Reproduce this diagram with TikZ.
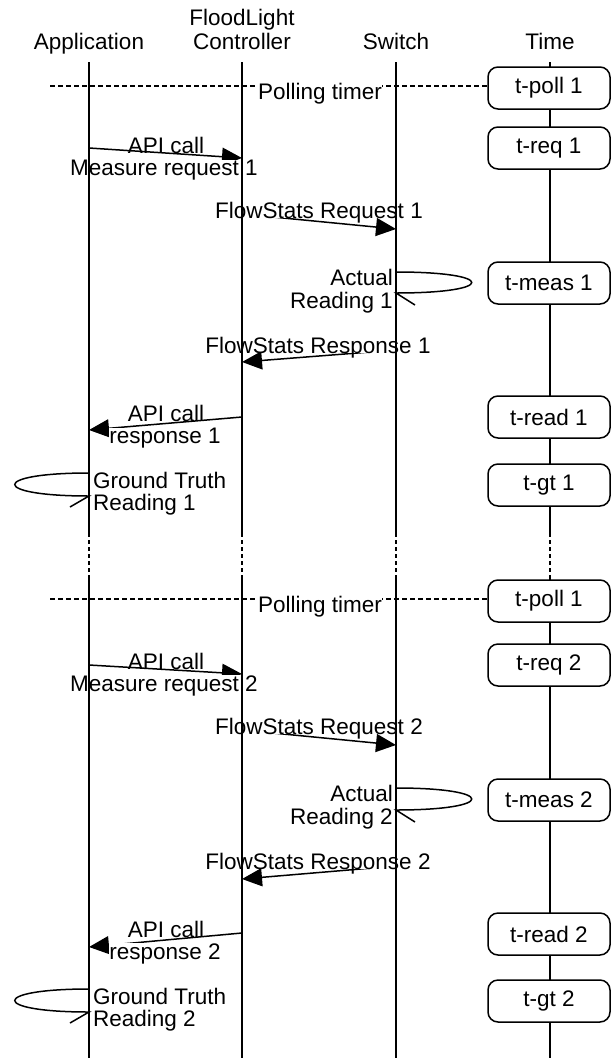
\documentclass[tikz,border=0pt]{standalone}
\usepackage{fontspec}
\setmainfont{Liberation Sans}
\usetikzlibrary{arrows.meta}
\begin{document}
\begin{tikzpicture}[x=1pt,y=-1pt,
  every node/.style={font=\fontsize{22.5}{24}\selectfont, inner sep=0pt},
  lbl/.style={anchor=base},
  lblw/.style={anchor=base, fill=white, text depth=0pt},
  msg/.style={line width=1.5pt, -{Triangle[length=20pt,width=18pt]}},
  life/.style={line width=1.6pt},
  gap/.style={line width=1.6pt, dash pattern=on 4pt off 3pt},
  tbox/.style={draw, line width=1.5pt, fill=white, rounded corners=10pt, minimum width=122pt, minimum height=42pt},
  timer/.style={line width=1.3pt, dash pattern=on 5pt off 3pt},
  selfloop/.style={line width=1.5pt}
]
\useasboundingbox (0,0) rectangle (616,1058);

% ---------- header ----------
\node[lbl] (hA) at (89,49) {Application};
\node[lbl] (hC1) at (242,25) {FloodLight};
\node[lbl] (hC2) at (242,49) {Controller};
\node[lbl] (hS) at (396,49) {Switch};
\node[lbl] (hT) at (550,49) {Time};

% ---------- lifeline coordinates ----------
\foreach \n/\x in {A/89,C/242,S/396,T/550}{
  \coordinate (\n0) at (\x,62);
  \coordinate (\n1) at (\x,533);
  \coordinate (\n2) at (\x,579);
  \coordinate (\n3) at (\x,1058);
}

% ---------- polling timers ----------
\coordinate (p1s) at (50,86);
\coordinate (p1e) at (488,86);
\coordinate (p2s) at (50,599);
\coordinate (p2e) at (488,599);
\draw[timer] (p1s) -- (p1e);
\draw[timer] (p2s) -- (p2e);

% ---------- block 1 messages ----------
\coordinate (r1s) at (89,148);  \coordinate (r1e) at (242,158);
\coordinate (f1s) at (242,214); \coordinate (f1e) at (396,229);
\coordinate (g1s) at (396,350); \coordinate (g1e) at (242,362);
\coordinate (a1s) at (242,417); \coordinate (a1e) at (89,430);
\draw[msg] (r1s) -- (r1e);
\draw[msg] (f1s) -- (f1e);
\draw[msg] (g1s) -- (g1e);
\draw[msg] (a1s) -- (a1e);
\coordinate (L1a) at (396,272); \coordinate (L1b) at (396,293); \coordinate (L1c) at (415,305);
\draw[selfloop] (L1a) .. controls (497,272) and (497,293) .. (L1b) -- (L1c);
\coordinate (G1a) at (89,473); \coordinate (G1b) at (89,496); \coordinate (G1c) at (70,507);
\draw[selfloop] (G1a) .. controls (-10,473) and (-10,496) .. (G1b) -- (G1c);

% ---------- block 2 messages ----------
\coordinate (r2s) at (89,665);  \coordinate (r2e) at (242,674);
\coordinate (f2s) at (242,730); \coordinate (f2e) at (396,745);
\coordinate (g2s) at (396,866); \coordinate (g2e) at (242,879);
\coordinate (a2s) at (242,933); \coordinate (a2e) at (89,947);
\draw[msg] (r2s) -- (r2e);
\draw[msg] (f2s) -- (f2e);
\draw[msg] (g2s) -- (g2e);
\draw[msg] (a2s) -- (a2e);
\coordinate (L2a) at (396,788); \coordinate (L2b) at (396,810); \coordinate (L2c) at (415,822);
\draw[selfloop] (L2a) .. controls (497,788) and (497,810) .. (L2b) -- (L2c);
\coordinate (G2a) at (89,989); \coordinate (G2b) at (89,1012); \coordinate (G2c) at (70,1023);
\draw[selfloop] (G2a) .. controls (-10,989) and (-10,1012) .. (G2b) -- (G2c);

% ---------- labels block 1 ----------
\node[lblw] (pt1) at (320,99) {Polling timer};
\node[lbl] (m1a) at (166,153) {API call};
\node[lblw] (m1b) at (164,175) {Measure request 1};
\node[lblw] (m2) at (319,218) {FlowStats Request 1};
\node[lbl, anchor=base east] (m3a) at (393,285) {Actual};
\node[lbl, anchor=base east] (m3b) at (393,308) {Reading 1};
\node[lblw] (m4) at (318,353) {FlowStats Response 1};
\node[lbl] (m5a) at (166,421) {API call};
\node[lblw] (m5b) at (165,443) {response 1};
\node[lbl, anchor=base west] (m6a) at (93,488) {Ground Truth};
\node[lbl, anchor=base west] (m6b) at (93,510) {Reading 1};

% ---------- labels block 2 ----------
\node[lblw] (pt2) at (320,612) {Polling timer};
\node[lbl] (n1a) at (166,669) {API call};
\node[lblw] (n1b) at (164,691) {Measure request 2};
\node[lblw] (n2) at (319,734) {FlowStats Request 2};
\node[lbl, anchor=base east] (n3a) at (393,801) {Actual};
\node[lbl, anchor=base east] (n3b) at (393,824) {Reading 2};
\node[lblw] (n4) at (318,869) {FlowStats Response 2};
\node[lbl] (n5a) at (166,937) {API call};
\node[lblw] (n5b) at (165,959) {response 2};
\node[lbl, anchor=base west] (n6a) at (93,1004) {Ground Truth};
\node[lbl, anchor=base west] (n6b) at (93,1026) {Reading 2};

% ---------- lifelines ----------
\foreach \n in {A,C,S,T}{
  \draw[life] (\n0) -- (\n1);
  \draw[gap] (\n1) -- (\n2);
  \draw[life] (\n2) -- (\n3);
}

% ---------- time boxes ----------
\node[tbox] (tp1) at (549,88) {t-poll 1};
\node[tbox] (tq1) at (549,148) {t-req 1};
\node[tbox] (tm1) at (549,283) {t-meas 1};
\node[tbox] (tr1) at (549,417) {t-read 1};
\node[tbox] (tg1) at (549,485) {t-gt 1};
\node[tbox] (tp2) at (549,601) {t-poll 1};
\node[tbox] (tq2) at (549,665) {t-req 2};
\node[tbox] (tm2) at (549,800) {t-meas 2};
\node[tbox] (tr2) at (549,934) {t-read 2};
\node[tbox] (tg2) at (549,1001) {t-gt 2};
\end{tikzpicture}
\end{document}
